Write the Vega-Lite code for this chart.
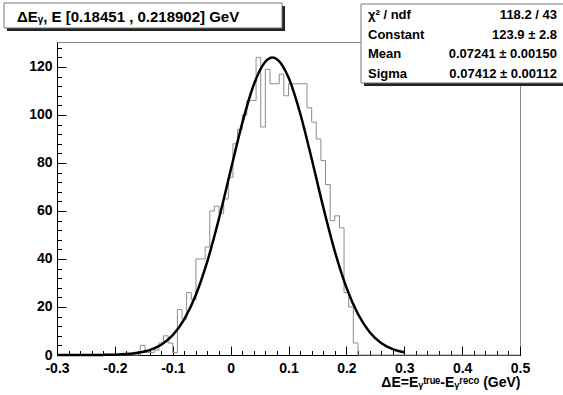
{
  "$schema": "https://vega.github.io/schema/vega-lite/v6.json",
  "width": 463,
  "height": 313,
  "autosize": {"type": "none"},
  "padding": {"left": 57, "top": 42, "right": 43, "bottom": 40},
  "background": "white",
  "config": {
    "view": {"stroke": "#8a8a8a", "strokeWidth": 1},
    "font": "Liberation Sans",
    "axis": {
      "labelFont": "Liberation Sans", "labelFontWeight": "bold", "labelFontSize": 14, "labelColor": "black",
      "domainColor": "black", "tickColor": "black", "grid": false,
      "titleFont": "Liberation Sans", "titleFontWeight": "bold", "titleFontSize": 14, "titleColor": "black"
    }
  },
  "datasets": {
    "hist": [
      {"x": -0.3, "count": 0},
      {"x": -0.164, "count": 0},
      {"x": -0.156, "count": 4},
      {"x": -0.148, "count": 1},
      {"x": -0.14, "count": 1},
      {"x": -0.132, "count": 2},
      {"x": -0.124, "count": 5},
      {"x": -0.116, "count": 8},
      {"x": -0.108, "count": 5},
      {"x": -0.1, "count": 1},
      {"x": -0.092, "count": 19},
      {"x": -0.084, "count": 15},
      {"x": -0.076, "count": 26},
      {"x": -0.068, "count": 23},
      {"x": -0.06, "count": 40},
      {"x": -0.052, "count": 40},
      {"x": -0.044, "count": 45},
      {"x": -0.036, "count": 60},
      {"x": -0.028, "count": 62},
      {"x": -0.02, "count": 59},
      {"x": -0.012, "count": 65},
      {"x": -0.004, "count": 74},
      {"x": 0.004, "count": 88},
      {"x": 0.012, "count": 94},
      {"x": 0.02, "count": 100},
      {"x": 0.028, "count": 106},
      {"x": 0.036, "count": 106},
      {"x": 0.044, "count": 124},
      {"x": 0.052, "count": 95},
      {"x": 0.06, "count": 119},
      {"x": 0.068, "count": 113},
      {"x": 0.076, "count": 113},
      {"x": 0.084, "count": 117},
      {"x": 0.092, "count": 108},
      {"x": 0.1, "count": 113},
      {"x": 0.108, "count": 113},
      {"x": 0.116, "count": 113},
      {"x": 0.124, "count": 113},
      {"x": 0.132, "count": 103},
      {"x": 0.14, "count": 97},
      {"x": 0.148, "count": 90},
      {"x": 0.156, "count": 81},
      {"x": 0.164, "count": 71},
      {"x": 0.172, "count": 56},
      {"x": 0.18, "count": 58},
      {"x": 0.188, "count": 53},
      {"x": 0.196, "count": 26},
      {"x": 0.204, "count": 20},
      {"x": 0.212, "count": 5},
      {"x": 0.22, "count": 0},
      {"x": 0.5, "count": 0}
    ],
    "fit": [
      {"x": -0.3, "fit": 0.0004},
      {"x": -0.28, "fit": 0.0015},
      {"x": -0.26, "fit": 0.0053},
      {"x": -0.24, "fit": 0.0172},
      {"x": -0.22, "fit": 0.0517},
      {"x": -0.2, "fit": 0.1445},
      {"x": -0.18, "fit": 0.376},
      {"x": -0.16, "fit": 0.908},
      {"x": -0.14, "fit": 2.04},
      {"x": -0.12, "fit": 4.26},
      {"x": -0.1, "fit": 8.28},
      {"x": -0.08, "fit": 14.97},
      {"x": -0.06, "fit": 25.13},
      {"x": -0.04, "fit": 39.23},
      {"x": -0.02, "fit": 56.96},
      {"x": 0.0, "fit": 76.88},
      {"x": 0.02, "fit": 96.49},
      {"x": 0.04, "fit": 112.6},
      {"x": 0.06, "fit": 122.18},
      {"x": 0.0724, "fit": 123.9},
      {"x": 0.08, "fit": 123.25},
      {"x": 0.1, "fit": 115.61},
      {"x": 0.12, "fit": 100.82},
      {"x": 0.14, "fit": 81.75},
      {"x": 0.16, "fit": 61.64},
      {"x": 0.18, "fit": 43.2},
      {"x": 0.2, "fit": 28.16},
      {"x": 0.22, "fit": 17.07},
      {"x": 0.24, "fit": 9.61},
      {"x": 0.26, "fit": 5.04},
      {"x": 0.28, "fit": 2.45},
      {"x": 0.3, "fit": 1.11}
    ]
  },
  "layer": [
    {
      "data": {"name": "hist"},
      "mark": {"type": "line", "interpolate": "step-after", "color": "#8c8c8c", "strokeWidth": 1},
      "encoding": {
        "x": {
          "field": "x", "type": "quantitative",
          "scale": {"domain": [-0.3, 0.5], "nice": false, "zero": false},
          "axis": {
            "orient": "bottom",
            "values": [-0.3, -0.2, -0.1, 0, 0.1, 0.2, 0.3, 0.4, 0.5],
            "tickSize": -9, "labelPadding": 15,
            "labelExpr": "'' + datum.value",
            "labelFlush": false, "labelOverlap": false,
            "title": "ΔE=Eᵧᵗʳᵘᵉ-Eᵧʳᵉᶜᵒ (GeV)",
            "titleAnchor": "end", "titlePadding": 0
          }
        },
        "y": {
          "field": "count", "type": "quantitative",
          "scale": {"domain": [0, 130.4], "nice": false},
          "axis": {
            "orient": "left",
            "values": [0, 20, 40, 60, 80, 100, 120],
            "tickSize": -9, "labelPadding": 14,
            "labelFlush": false, "labelOverlap": false,
            "title": null
          }
        }
      }
    },
    {
      "data": {"name": "fit"},
      "mark": {"type": "line", "interpolate": "monotone", "color": "black", "strokeWidth": 2.5},
      "encoding": {
        "x": {
          "field": "x", "type": "quantitative",
          "axis": {
            "orient": "bottom",
            "values": [-0.3, -0.28, -0.26, -0.24, -0.22, -0.2, -0.18, -0.16, -0.14, -0.12, -0.1, -0.08, -0.06, -0.04, -0.02, 0, 0.02, 0.04, 0.06, 0.08, 0.1, 0.12, 0.14, 0.16, 0.18, 0.2, 0.22, 0.24, 0.26, 0.28, 0.3, 0.32, 0.34, 0.36, 0.38, 0.4, 0.42, 0.44, 0.46, 0.48, 0.5],
            "tickSize": -4.5, "labels": false, "domain": false, "title": null
          }
        },
        "y": {
          "field": "fit", "type": "quantitative",
          "axis": {
            "orient": "left",
            "values": [0, 4, 8, 12, 16, 20, 24, 28, 32, 36, 40, 44, 48, 52, 56, 60, 64, 68, 72, 76, 80, 84, 88, 92, 96, 100, 104, 108, 112, 116, 120, 124, 128],
            "tickSize": -4.5, "labels": false, "domain": false, "title": null
          }
        }
      }
    },
    {
      "data": {"values": [{}]},
      "mark": {"type": "rect", "fill": "#222222"},
      "encoding": {
        "x": {"datum": -0.3864, "axis": null}, "x2": {"datum": 0.09395},
        "y": {"datum": 145.4, "axis": null}, "y2": {"datum": 134.98}
      }
    },
    {
      "data": {"values": [{}]},
      "mark": {"type": "rect", "fill": "white", "stroke": "#777777", "strokeWidth": 1},
      "encoding": {
        "x": {"datum": -0.39158, "axis": null}, "x2": {"datum": 0.08877},
        "y": {"datum": 146.65, "axis": null}, "y2": {"datum": 136.23}
      }
    },
    {
      "data": {"values": [{}]},
      "mark": {"type": "text", "text": "ΔEᵧ, E [0.18451 , 0.218902] GeV", "font": "Liberation Sans", "fontWeight": "bold", "fontSize": 15, "align": "left", "baseline": "alphabetic", "color": "black"},
      "encoding": {
        "x": {"datum": -0.36911, "axis": null},
        "y": {"datum": 138.73, "axis": null}
      }
    },
    {
      "data": {"values": [{}]},
      "mark": {"type": "rect", "fill": "#222222"},
      "encoding": {
        "x": {"datum": 0.2305, "axis": null}, "x2": {"datum": 0.59},
        "y": {"datum": 145.0, "axis": null}, "y2": {"datum": 112.07}
      }
    },
    {
      "data": {"values": [{}]},
      "mark": {"type": "rect", "fill": "white", "stroke": "#777777", "strokeWidth": 1},
      "encoding": {
        "x": {"datum": 0.22527, "axis": null}, "x2": {"datum": 0.58639},
        "y": {"datum": 146.23, "axis": null}, "y2": {"datum": 113.32}
      }
    },
    {
      "data": {"values": [{}]},
      "mark": {"type": "text", "text": ["χ² / ndf", "Constant", "Mean", "Sigma"], "lineHeight": 19.5, "font": "Liberation Sans", "fontWeight": "bold", "fontSize": 13, "align": "left", "baseline": "alphabetic", "color": "black"},
      "encoding": {
        "x": {"datum": 0.23737, "axis": null},
        "y": {"datum": 139.98, "axis": null}
      }
    },
    {
      "data": {"values": [{}]},
      "mark": {"type": "text", "text": ["118.2 / 43", "123.9 ± 2.8", "0.07241 ± 0.00150", "0.07412 ± 0.00112"], "lineHeight": 19.5, "font": "Liberation Sans", "fontWeight": "bold", "fontSize": 13, "align": "right", "baseline": "alphabetic", "color": "black"},
      "encoding": {
        "x": {"datum": 0.56393, "axis": null},
        "y": {"datum": 139.98, "axis": null}
      }
    }
  ],
  "resolve": {"axis": {"x": "independent", "y": "independent"}}
}
